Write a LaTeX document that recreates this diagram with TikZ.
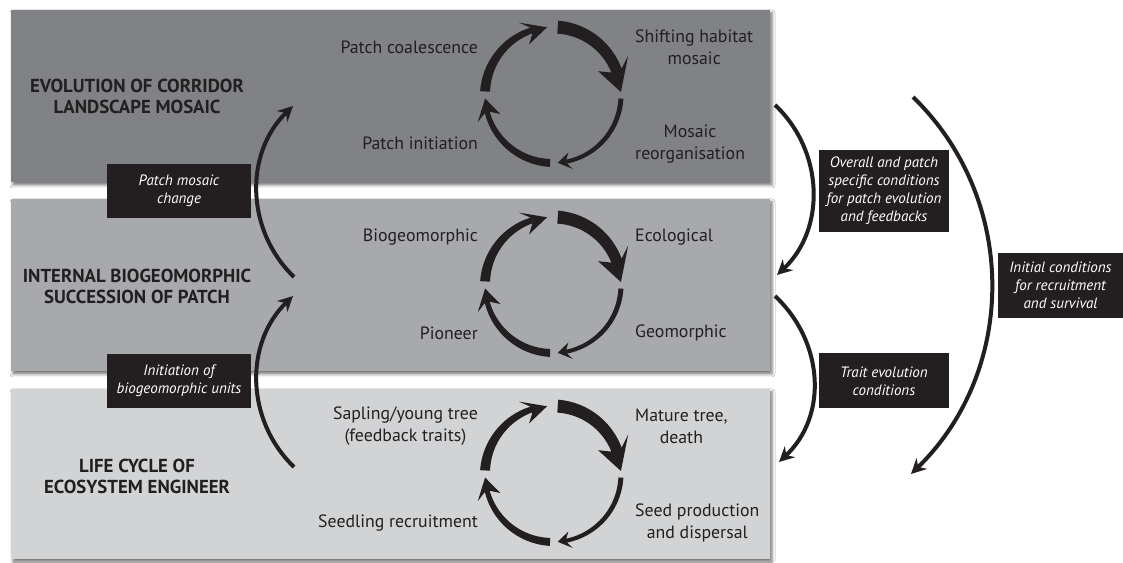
\documentclass[tikz,border=0pt]{standalone}
\usepackage{fontspec}
\setmainfont{PT Sans}
\usetikzlibrary{arrows.meta,shadows.blur}
\definecolor{bandA}{HTML}{808285}
\definecolor{bandB}{HTML}{A7A9AC}
\definecolor{bandC}{HTML}{D1D3D4}
\definecolor{ink}{HTML}{231F20}
% #1 cx, #2 cy, #3 start angle, #4 tip angle, #5 start width, #6 end width, #7 head length, #8 head width, #9 inset
\newcommand{\cycarrow}[9]{%
 \pgfmathsetmacro{\cycR}{68}%
 \pgfmathsetmacro{\cycB}{#4+#7/\cycR*57.29578}%
 \pgfmathsetmacro{\cycN}{\cycB-#9/\cycR*57.29578}%
 \fill[ink] plot[domain=0:1,samples=25,variable=\t] ({#1+(\cycR+(#5+(#6-#5)*\t)/2)*cos(#3+(\cycN-#3)*\t)},{#2+(\cycR+(#5+(#6-#5)*\t)/2)*sin(#3+(\cycN-#3)*\t)})
 -- ({#1+(\cycR+#8/2)*cos(\cycB)},{#2+(\cycR+#8/2)*sin(\cycB)})
 -- ({#1+\cycR*cos(#4)},{#2+\cycR*sin(#4)})
 -- ({#1+(\cycR-#8/2)*cos(\cycB)},{#2+(\cycR-#8/2)*sin(\cycB)})
 -- plot[domain=0:1,samples=25,variable=\t] ({#1+(\cycR-(#6+(#5-#6)*\t)/2)*cos(\cycN+(#3-\cycN)*\t)},{#2+(\cycR-(#6+(#5-#6)*\t)/2)*sin(\cycN+(#3-\cycN)*\t)})
 -- cycle;}
\newcommand{\fullcycle}[2]{%
 \cycarrow{#1}{#2}{177}{95}{10}{6}{24}{24}{8}%
 \cycarrow{#1}{#2}{86}{2.5}{13}{11}{30}{34}{8}%
 \cycarrow{#1}{#2}{-3}{-86}{5}{4}{13}{17}{4}%
 \cycarrow{#1}{#2}{267.5}{183}{8}{5}{20}{24}{6}}
\tikzset{
 bandshadow/.style={blur shadow={shadow xshift=2pt,shadow yshift=-3pt,shadow blur radius=3pt,shadow opacity=55}},
 hdr/.style={font=\bfseries\fontsize{18.8}{21}\selectfont,text=ink,align=center},
 cyc/.style={font=\fontsize{17.8}{22}\selectfont,text=ink,align=center,inner sep=0pt},
 lbl/.style={fill=ink,text=white,font=\itshape\fontsize{15}{18}\selectfont,align=center,inner sep=0pt},
 conn/.style={line width=4pt,draw=ink,-{Stealth[length=15pt,width=15pt,inset=5pt]}}
}
\begin{document}
\begin{tikzpicture}[x=1pt,y=1pt]
\useasboundingbox (0,0) rectangle (1123,562);
\fill[white] (0,0) rectangle (1123,562);
% bands
\fill[bandA,bandshadow] (11,380) rectangle (770,552);
\fill[bandB,bandshadow] (11,191) rectangle (770,363);
\fill[bandC,bandshadow] (11,3) rectangle (770,173);
% headings
\node[hdr] (h1) at (137,466) {EVOLUTION OF CORRIDOR\\LANDSCAPE MOSAIC};
\node[hdr] (h2) at (137,276) {INTERNAL BIOGEOMORPHIC\\SUCCESSION OF PATCH};
\node[hdr] (h3) at (137,86) {LIFE CYCLE OF\\ECOSYSTEM ENGINEER};
% cycles
\fullcycle{553}{467}
\fullcycle{553}{277}
\fullcycle{553}{88}
% cycle labels
\node[cyc,anchor=east] (t1) at (478,515) {Patch coalescence};
\node[cyc,anchor=west] (t2) at (635,515) {Shifting habitat\\mosaic};
\node[cyc,anchor=east] (t3) at (478,419) {Patch initiation};
\node[cyc,anchor=west] (t4) at (635,418) {Mosaic\\reorganisation};
\node[cyc,anchor=east] (m1) at (478,325) {Biogeomorphic};
\node[cyc,anchor=west] (m2) at (635,325) {Ecological};
\node[cyc,anchor=east] (m3) at (478,229) {Pioneer};
\node[cyc,anchor=west] (m4) at (635,229) {Geomorphic};
\node[cyc,anchor=east] (s1) at (478,136) {Sapling/young tree\\(feedback traits)};
\node[cyc,anchor=west] (s2) at (635,136) {Mature tree,\\death};
\node[cyc,anchor=east] (s3) at (478,39) {Seedling recruitment};
\node[cyc,anchor=west] (s4) at (635,39) {Seed production\\and dispersal};
% black label boxes
\node[lbl,minimum width=144pt,minimum height=54pt] (b1) at (179,371) {Patch mosaic\\change};
\node[lbl,minimum width=144pt,minimum height=54pt] (b2) at (179,181) {Initiation of\\biogeomorphic units};
\node[lbl,minimum width=130pt,minimum height=82pt] (b3) at (884,371) {Overall and patch\\specific conditions\\for patch evolution\\and feedbacks};
\node[lbl,minimum width=130pt,minimum height=55pt] (b4) at (884,181) {Trait evolution\\conditions};
\node[lbl,minimum width=125pt,minimum height=65pt] (b5) at (1060.5,276.5) {Initial conditions\\for recruitment\\and survival};
% connector end points
\coordinate (lc1s) at (294,285); \coordinate (lc1e) at (293,456);
\coordinate (lc2s) at (294,95);  \coordinate (lc2e) at (293,266);
\coordinate (rc1s) at (775,457); \coordinate (rc1e) at (777,287);
\coordinate (rc2s) at (775,266); \coordinate (rc2e) at (779,100);
\coordinate (rc3s) at (913,465); \coordinate (rc3e) at (911,88);
\draw[conn] (lc1s) .. controls +(-48.6,47) and +(-48.6,-47) .. (lc1e);
\draw[conn] (lc2s) .. controls +(-48.6,47) and +(-48.6,-47) .. (lc2e);
\draw[conn] (rc1s) .. controls +(49,-46) and +(49,46) .. (rc1e);
\draw[conn] (rc2s) .. controls +(49,-46) and +(49,46) .. (rc2e);
\draw[conn] (rc3s) .. controls +(106,-103) and +(106,103) .. (rc3e);
\end{tikzpicture}
\end{document}
